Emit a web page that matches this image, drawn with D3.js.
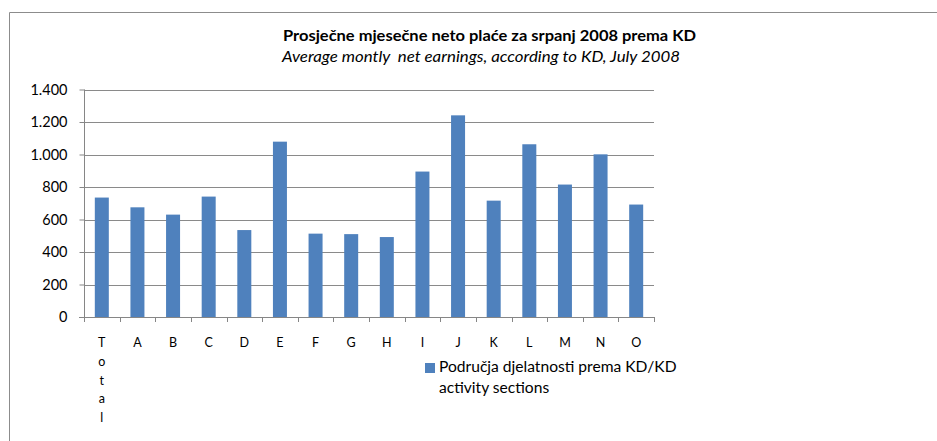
<!DOCTYPE html>
<html>
  <head>
    <meta charset="utf-8">
    <title>Prosječne plaće</title>
    <script src="https://d3js.org/d3.v7.min.js"></script>
    <style>
      body { margin: 0; background: #fff; }
      text { font-family: Lato, "Open Sans", sans-serif; fill: #000; white-space: pre; }
    </style>
  </head>
  <body>
    <script>
    var w = 937;
    var h = 441;

    var categories = ["Total", "A", "B", "C", "D", "E", "F", "G", "H", "I", "J", "K", "L", "M", "N", "O"];
    var earnings = [735, 675, 630, 741, 535, 1079, 513, 510, 492, 895, 1241, 716, 1063, 815, 1001, 692];
    var yTicks = [0, 200, 400, 600, 800, 1000, 1200, 1400];
    var title = "Prosječne mjesečne neto plaće za srpanj 2008 prema KD";
    var subtitle = "Average montly  net earnings, according to KD, July 2008";
    var legendLines = ["Područja djelatnosti prema KD/KD", "activity sections"];

    var plot = {left: 84, right: 654, top: 89.5, bottom: 317};

    var svg = d3.select("body")
      .append("svg")
      .attr("width", w)
      .attr("height", h);

    // outer chart frame (cut off on right and bottom)
    svg.append("path")
      .attr("d", "M9.5," + h + "V12.5H" + w)
      .attr("fill", "none")
      .attr("stroke", "#8c8c8c")
      .attr("stroke-width", 1);

    var x = d3.scaleBand()
      .domain(categories)
      .range([plot.left, plot.right]);

    var y = d3.scaleLinear()
      .domain([0, 1400])
      .range([plot.bottom, plot.top]);

    // gridlines
    svg.append("g")
      .selectAll("line")
      .data(yTicks.slice(1))
      .enter()
      .append("line")
      .attr("x1", plot.left)
      .attr("x2", plot.right)
      .attr("y1", function(d){ return Math.round(y(d)) + 0.5 })
      .attr("y2", function(d){ return Math.round(y(d)) + 0.5 })
      .attr("stroke", "#8a8a8a")
      .attr("stroke-width", 1);

    // bars
    var barW = 14;
    svg.append("g")
      .selectAll("rect")
      .data(earnings)
      .enter()
      .append("rect")
      .attr("x", function(d, i){ return x(categories[i]) + x.bandwidth() / 2 - barW / 2 })
      .attr("y", function(d){ return y(d) })
      .attr("width", barW)
      .attr("height", function(d){ return plot.bottom - y(d) })
      .attr("fill", "#4f81bd");

    // y axis
    var yAxis = d3.axisLeft(y)
      .tickValues(yTicks)
      .tickSize(5)
      .tickPadding(12)
      .tickFormat(function(d){ return d3.format(",")(d).replace(/,/g, ".") });

    var ya = svg.append("g")
      .attr("transform", "translate(" + (plot.left + 0.5) + ",0)")
      .call(yAxis);
    ya.selectAll("path, line").attr("stroke", "#868686");
    ya.select(".domain").attr("d", "M0," + plot.top + "V" + (plot.bottom + 0.5));
    ya.selectAll("text")
      .attr("font-family", "Lato, sans-serif")
      .attr("font-size", "14.5px")
      .attr("fill", "#000");

    // x axis: baseline with tick marks at band edges
    var edges = categories.map(function(c){ return x(c) }).concat([plot.right]);
    var xa = svg.append("g");
    xa.append("line")
      .attr("x1", plot.left - 5)
      .attr("x2", plot.right)
      .attr("y1", plot.bottom + 0.5)
      .attr("y2", plot.bottom + 0.5)
      .attr("stroke", "#868686");
    xa.selectAll("line.tick")
      .data(edges)
      .enter()
      .append("line")
      .attr("class", "tick")
      .attr("x1", function(d){ return Math.round(d) + 0.5 })
      .attr("x2", function(d){ return Math.round(d) + 0.5 })
      .attr("y1", plot.bottom)
      .attr("y2", plot.bottom + 5)
      .attr("stroke", "#868686");

    // category labels (Total is stacked letter by letter)
    xa.selectAll("text.cat")
      .data(categories)
      .enter()
      .append("text")
      .attr("class", "cat")
      .attr("x", function(d){ return x(d) + x.bandwidth() / 2 })
      .attr("y", 347)
      .attr("text-anchor", "middle")
      .attr("font-size", "12.5px")
      .each(function(d){
        var t = d3.select(this);
        if (d.length > 1) {
          d.split("").forEach(function(ch, i){
            t.append("tspan")
              .attr("x", x(d) + x.bandwidth() / 2)
              .attr("dy", i === 0 ? 0 : 18.8)
              .text(ch);
          });
        } else {
          t.text(d);
        }
      });

    // titles
    svg.append("text")
      .attr("x", 283)
      .attr("y", 41)
      .attr("font-weight", "bold")
      .attr("font-size", "15px")
      .attr("textLength", 413)
      .attr("lengthAdjust", "spacingAndGlyphs")
      .text(title);

    svg.append("text")
      .attr("x", 282)
      .attr("y", 62)
      .attr("font-style", "italic")
      .attr("font-size", "15px")
      .attr("textLength", 398)
      .attr("lengthAdjust", "spacingAndGlyphs")
      .text(subtitle);

    // legend
    var lg = svg.append("g");
    lg.append("rect")
      .attr("x", 425)
      .attr("y", 363)
      .attr("width", 10)
      .attr("height", 10)
      .attr("fill", "#4f81bd");
    lg.selectAll("text")
      .data(legendLines)
      .enter()
      .append("text")
      .attr("x", 439)
      .attr("y", function(d, i){ return 372 + i * 20.5 })
      .attr("font-size", "15.6px")
      .text(function(d){ return d });
    </script>
  </body>
</html>
